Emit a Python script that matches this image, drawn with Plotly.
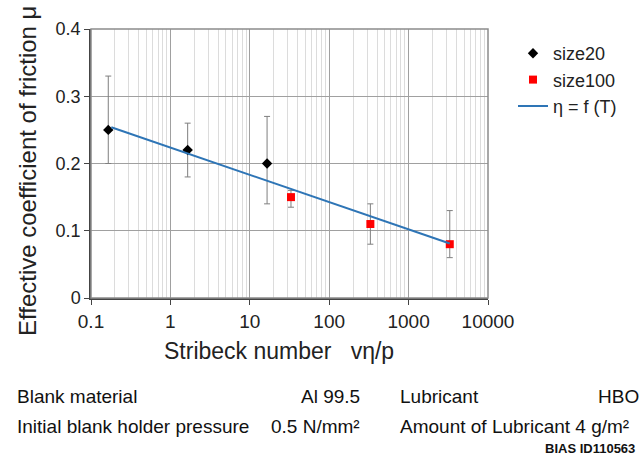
import plotly.graph_objects as go

# ---- data ----
size20_x = [0.165, 1.65, 16.5]
size20_y = [0.25, 0.22, 0.20]
size20_err_plus = [0.08, 0.04, 0.07]
size20_err_minus = [0.05, 0.04, 0.06]

size100_x = [33, 330, 3300]
size100_y = [0.15, 0.11, 0.08]
size100_err_plus = [0.01, 0.03, 0.05]
size100_err_minus = [0.015, 0.03, 0.02]

fit_x = [0.18, 3300]
fit_y = [0.254, 0.081]

x_tickvals = [0.1, 1, 10, 100, 1000, 10000]
x_ticktext = ["0.1", "1", "10", "100", "1000", "10000"]
y_tickvals = [0, 0.1, 0.2, 0.3, 0.4]
y_ticktext = ["0", "0.1", "0.2", "0.3", "0.4"]

footer_left = [("Blank material", "Al 99.5"), ("Initial blank holder pressure", "0.5 N/mm²")]
footer_right = [("Lubricant", "HBO"), ("Amount of Lubricant 4 g/m²", "")]
source_id = "BIAS ID110563"

FONT = "Liberation Sans, Arial, sans-serif"

W, H = 642, 462
L, R, T, B = 91, 488, 29, 298

def px(x):
    return (x - L) / (R - L)

def py(y):
    return (B - y) / (B - T)

fig = go.Figure()

fig.add_trace(go.Scatter(
    x=size20_x, y=size20_y, mode="markers", name="size20",
    marker=dict(symbol="diamond", size=8, color="black"),
    error_y=dict(type="data", symmetric=False, array=size20_err_plus,
                 arrayminus=size20_err_minus, color="#7f7f7f", thickness=1, width=3),
))
fig.add_trace(go.Scatter(
    x=size100_x, y=size100_y, mode="markers", name="size100",
    marker=dict(symbol="square", size=8, color="#ff0000"),
    error_y=dict(type="data", symmetric=False, array=size100_err_plus,
                 arrayminus=size100_err_minus, color="#7f7f7f", thickness=1, width=3),
))
fig.add_trace(go.Scatter(
    x=fit_x, y=fit_y, mode="lines", name="η = f (T)",
    line=dict(color="#2e75b6", width=2),
))

annotations = []
annotations.append(dict(text="Effective coefficient of friction μ", x=px(28), y=py(171),
                        xref="paper", yref="paper", textangle=-90, showarrow=False,
                        font=dict(family=FONT, size=24, color="#222"),
                        xanchor="center", yanchor="middle"))
annotations.append(dict(text="Stribeck number   vη/p", x=px(279), y=py(351),
                        xref="paper", yref="paper", showarrow=False,
                        font=dict(family=FONT, size=23, color="#222"),
                        xanchor="center", yanchor="middle"))
rows_y = [396, 426]
for i, (lab, val) in enumerate(footer_left):
    annotations.append(dict(text=lab, x=px(15), y=py(rows_y[i]), xref="paper", yref="paper",
                            showarrow=False, xanchor="left", yanchor="middle",
                            font=dict(family=FONT, size=19, color="#111")))
    annotations.append(dict(text=val, x=px(362), y=py(rows_y[i]), xref="paper", yref="paper",
                            showarrow=False, xanchor="right", yanchor="middle",
                            font=dict(family=FONT, size=19, color="#111")))
for i, (lab, val) in enumerate(footer_right):
    annotations.append(dict(text=lab, x=px(398), y=py(rows_y[i]), xref="paper", yref="paper",
                            showarrow=False, xanchor="left", yanchor="middle",
                            font=dict(family=FONT, size=19, color="#111")))
    if val:
        annotations.append(dict(text=val, x=px(641), y=py(rows_y[i]), xref="paper", yref="paper",
                                showarrow=False, xanchor="right", yanchor="middle",
                                font=dict(family=FONT, size=19, color="#111")))
annotations.append(dict(text="<b>" + source_id + "</b>", x=px(637), y=py(448), xref="paper", yref="paper",
                        showarrow=False, xanchor="right", yanchor="middle",
                        font=dict(family=FONT, size=13, color="#111")))

fig.update_layout(
    width=W, height=H,
    margin=dict(l=L, r=W - R, t=T, b=H - B, pad=0),
    paper_bgcolor="white", plot_bgcolor="white",
    font=dict(family=FONT, size=16, color="#222"),
    showlegend=True,
    legend=dict(x=px(513), y=py(35), xanchor="left", yanchor="top",
                font=dict(family=FONT, size=18, color="#222"),
                bgcolor="rgba(0,0,0,0)", tracegroupgap=0, itemwidth=30),
    annotations=annotations,
    xaxis=dict(type="log", range=[-1, 4], tickvals=x_tickvals, ticktext=x_ticktext,
               showgrid=True, gridcolor="#a0a0a0", gridwidth=1,
               minor=dict(showgrid=True, gridcolor="#dcdcdc", gridwidth=1, dtick="D1",
                          ticks=""),
               showline=True, linecolor="#444", linewidth=1.5, mirror=False,
               ticks="outside", ticklen=5, tickcolor="#444",
               tickfont=dict(size=19, color="#222"), zeroline=False),
    yaxis=dict(range=[0, 0.4], tickvals=y_tickvals, ticktext=y_ticktext,
               showgrid=True, gridcolor="#a0a0a0", gridwidth=1,
               showline=True, linecolor="#444", linewidth=1.5,
               ticks="outside", ticklen=5, tickcolor="#444",
               tickfont=dict(size=18, color="#222"), zeroline=False),
)
fig.add_shape(type="rect", xref="paper", yref="paper", x0=0, y0=0, x1=1, y1=1,
              line=dict(color="#8c8c8c", width=1.5), layer="above")

fig.write_html("out.html")
